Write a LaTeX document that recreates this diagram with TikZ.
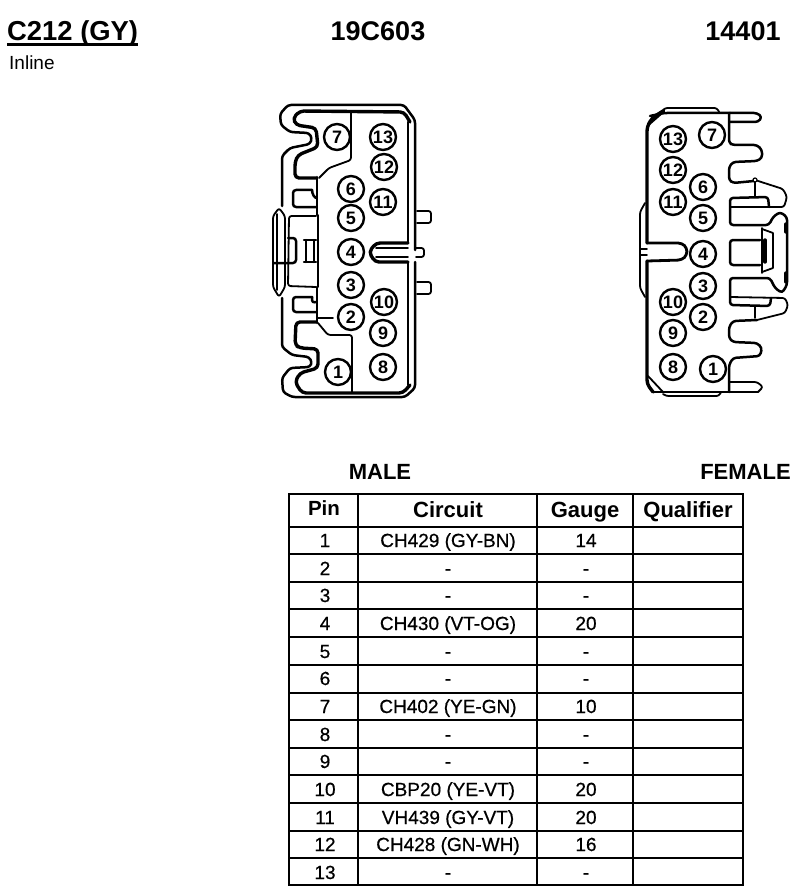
\documentclass[tikz,border=0pt]{standalone}
\usepackage{fontspec}
\setmainfont{Liberation Sans}
\newfontfamily\cellfont[FakeBold=0.6]{Liberation Sans}
\newcommand{\fsz}[1]{\fontsize{#1}{#1}\selectfont}
\tikzset{
  thinl/.style={line width=1.8pt,line join=round,line cap=round,rounded corners=2.5pt},
  medl/.style={line width=2.5pt,line join=round,line cap=round,rounded corners=3pt},
  heavy/.style={line width=3.4pt,line join=round,line cap=round,rounded corners=4pt},
  sharpl/.style={line width=1.6pt,line cap=round},
  grid/.style={line width=2pt,line cap=rect},
  pin/.style={circle,draw,line width=2.4pt,minimum size=26pt,inner sep=0pt,font=\fsz{18}\bfseries},
  title/.style={inner sep=0pt,anchor=base,font=\fsz{27}\bfseries},
  lab/.style={inner sep=0pt,anchor=base,font=\fsz{22}\bfseries},
  cell/.style={inner sep=0pt,anchor=base,font=\cellfont\fsz{19}},
}
\begin{document}
\begin{tikzpicture}[x=1pt,y=-1pt]
\useasboundingbox (0,0) rectangle (806,896);
\fill[white] (0,0) rectangle (806,896);
% titles
\node[title,anchor=base west,font=\fsz{27.4}\bfseries] (tA) at (7,41) {C212 (GY)};
\coordinate (uA) at (7,44.5);
\coordinate (uB) at (138,44.5);
\draw[line width=2.6pt] (uA) -- (uB);
\node[title] (tB) at (378,41) {19C603};
\node[title] (tC) at (743,41) {14401};
\node[inner sep=0pt,anchor=base west,font=\fsz{19}] (tD) at (9,70) {Inline};
\node[lab] (tE) at (380,479) {MALE};
\node[lab] (tF) at (745.5,479) {FEMALE};
% LEFT connector: outer outline
\draw[medl] (415,250) -- (415,120) -- (404,105) -- (288,105) -- (280,114) -- (281,125) -- (290,132) -- (309,133) -- (312,138) -- (310,144) -- (290,148) -- (282,156) -- (282,206);
\draw[medl] (282,298) -- (282,347) -- (292,355) -- (309,357) -- (312,362) -- (310,367) -- (290,368) -- (282,378) -- (283,392) -- (292,397) -- (405,397) -- (415,388) -- (415,262);
% inner thick
\draw[heavy] (410,122) -- (404,112) -- (300,111) -- (293,118) -- (296,125) -- (316,128) -- (318,147) -- (298,155) -- (295,162) -- (295,178) -- (316,178);
\draw[heavy] (316,322) -- (296,322) -- (295,345) -- (300,348) -- (318,349) -- (318,368) -- (300,373) -- (295,382) -- (302,393) -- (403,393) -- (410,385);
\draw[medl] (408,122) -- (408,243) (408,262) -- (408,385);
% divider
\draw[thinl] (351,112) -- (351,160) -- (329,168) -- (319,178);
\draw[medl] (317,177) -- (317,215);
\draw[sharpl] (318,215) -- (318,287);
\draw[medl] (317,287) -- (317,323);
\draw[thinl] (318,323) -- (328,335) -- (352,335) -- (352,392);
% small windows
\draw[medl] (312,190) -- (293,190) -- (293,207) -- (316,207);
\draw[medl] (312,190) -- (313,196) -- (316,198);
\draw[medl] (312,297) -- (293,297) -- (293,312) -- (316,312);
\draw[medl] (316,302) -- (312,303) -- (312,297);
\draw[sharpl] (318,318) -- (333,318);
% centre of left side
\draw[thinl] (316,216) -- (289,216) -- (288,286) -- (316,287);
\draw[medl] (288,238) -- (296,238) -- (296,263) -- (274,263);
\draw[thinl] (273,216) -- (279,208) -- (285,216) -- (285,287) -- (279,297) -- (273,287) -- cycle;
\draw[sharpl] (277,214) -- (277,290);
\draw[medl] (304,240) -- (316,240) (304,262) -- (316,262) (306,240) -- (306,262) (314,240) -- (314,262);
% slot
\draw[heavy] (408,243) -- (376,243) -- (369,252) -- (375,262) -- (408,262);
\draw[sharpl] (376,248) -- (408,248) (376,257) -- (408,257);
% tabs
\draw[thinl] (417,211) -- (431,211) -- (431,223) -- (417,223);
\draw[thinl] (416,248) -- (424,248) -- (424,257) -- (416,257);
\draw[thinl] (417,282) -- (431,282) -- (431,294) -- (417,294);
% RIGHT connector
\draw[heavy] (647,243) -- (647,127) -- (652,118) -- (663,111);
\draw[heavy] (647,261) -- (647,384) -- (653,392);
\draw[medl] (650,116) -- (664,113) -- (730,113);
\draw[heavy,line width=2.6pt] (648,125) -- (664,111);
\draw[thinl] (663,110) -- (665,108) -- (717,108) -- (719,112);
\draw[medl] (653,392) -- (758,392);
\draw[thinl] (648,376) -- (663,392);
\draw[thinl] (663,394) -- (666,396) -- (719,396) -- (721,392);
\draw[heavy,line width=2.8pt] (647,243) -- (682,243) -- (687,248) -- (687,255) -- (682,260) -- (647,261);
\draw[thinl] (645,203) -- (640,212) -- (640,288) -- (645,297);
\draw[sharpl] (640,249) -- (647,249) (640,255) -- (647,255);
% right side comb
\draw[medl] (730,113) -- (757,113) -- (762,117) -- (758,122) -- (730,122);
\draw[medl] (729,113) -- (729,143) -- (733,145) -- (757,145) -- (762,150) -- (762,158) -- (757,161) -- (733,162) -- (729,167) -- (729,180) -- (733,183) -- (754,181);
\draw[thinl] (755,180) -- (783,189) -- (787,197) -- (784,207) -- (730,207);
\draw[line width=1.2pt,fill=white] (755,180) circle (2pt);
\draw[thinl] (755,182) -- (755,197);
\draw[medl] (769,207) -- (768,197) -- (730,198) -- (730,225) -- (769,225) -- (773,217) -- (780,212) -- (787,217) -- (787,285) -- (782,293) -- (775,288) -- (770,278) -- (730,278) -- (730,305) -- (770,306) -- (771,298);
\draw[thinl] (762,228) -- (762,273) (773,233) -- (773,268) (762,229) -- (773,233) (762,272) -- (773,268);
\draw[heavy] (765,240) -- (765,262);
\draw[heavy] (786,224) -- (786,232) (786,273) -- (786,282);
\draw[medl] (760,240) -- (730,240) -- (730,265) -- (760,265);
\draw[thinl] (730,297) -- (785,298) -- (788,305) -- (785,313) -- (757,320);
\draw[thinl] (755,307) -- (755,318);
\draw[medl] (757,320) -- (733,321) -- (729,327) -- (729,338) -- (733,342) -- (757,343) -- (762,348) -- (760,356) -- (733,358) -- (729,365) -- (729,392);
\draw[thinl] (730,382) -- (757,382) -- (763,387) -- (758,392);
% pins left
\foreach \p/\x/\y in {7/337/137,13/383/137,12/384/167,6/351/189,11/383/202,5/351/218,4/351/252,3/351/285,10/384/302,2/351/317,9/383/333,8/383/367,1/338/372}
  \node[pin,fill=white] (L\p) at (\x,\y) {\p};
% pins right
\foreach \p/\x/\y in {13/673/139,7/712/135,12/673/170,6/703/187,11/673/202,5/703/218,4/703/254,3/703/286,10/673/302,2/703/317,9/673/333,8/673/367,1/713/369}
  \node[pin,fill=white] (R\p) at (\x,\y) {\p};
% table grid
\foreach \xx in {358,537,633} \draw[grid] (\xx,494) -- (\xx,885);
\draw[grid,line width=2.4pt] (289,494) -- (289,885);
\draw[grid,line width=2.4pt] (743,494) -- (743,885);
\foreach \yy in {494,527,554,582,609,637,665,693,720,748,775,803,858,885} \draw[grid] (289,\yy) -- (743,\yy);
\draw[grid,line width=2.8pt] (289,831) -- (743,831);
% table header
\node[lab,font=\fsz{20.5}\bfseries] (hP) at (324,515) {Pin};
\node[lab] (hC) at (448,517) {Circuit};
\node[lab] (hG) at (585,517) {Gauge};
\node[lab] (hQ) at (688,517) {Qualifier};
% table body
\foreach \r/\y/\c/\g in {1/547/CH429 (GY-BN)/14,2/575/-/-,3/602/-/-,4/630/CH430 (VT-OG)/20,5/658/-/-,6/685/-/-,7/713/CH402 (YE-GN)/10,8/741/-/-,9/768/-/-,10/796/CBP20 (YE-VT)/20,11/824/VH439 (GY-VT)/20,12/851/CH428 (GN-WH)/16,13/879/-/-}{
  \node[cell] (p\r) at (325,\y) {\r};
  \node[cell] (c\r) at (448,\y) {\c};
  \node[cell] (g\r) at (586,\y) {\g};
}
\end{tikzpicture}
\end{document}
